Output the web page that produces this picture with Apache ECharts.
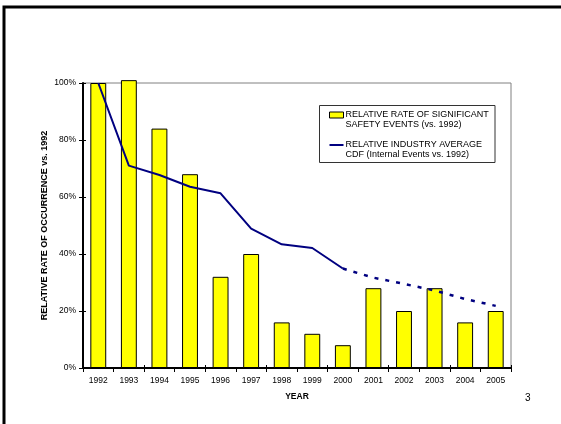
<!DOCTYPE html>
<html>
<head>
<meta charset="utf-8">
<script src="https://cdn.jsdelivr.net/npm/echarts@6/dist/echarts.min.js"></script>
<style>html,body{margin:0;padding:0;background:#fff;}#c{width:561px;height:424px;}</style>
</head>
<body>
<div id="c"></div>
<script>
var years = ['1992','1993','1994','1995','1996','1997','1998','1999','2000','2001','2002','2003','2004','2005'];
var safetyEvents = [100, 101, 84, 68, 32, 40, 16, 12, 8, 28, 20, 28, 16, 20];
var cdfActual = [100, 71, 67.7, 63.6, 61.3, 48.9, 43.4, 42.1, 34.9, null, null, null, null, null];
var cdfProjected = [null, null, null, null, null, null, null, null, 34.9, 31.7, 29.5, 27.2, 24.2, 21.8];
var nameBar = 'RELATIVE RATE OF SIGNIFICANT\nSAFETY EVENTS (vs. 1992)';
var nameLine = 'RELATIVE INDUSTRY AVERAGE\nCDF (Internal Events vs. 1992)';

var chart = echarts.init(document.getElementById('c'));
var font = 'Liberation Sans, Arial, sans-serif';
chart.setOption({
  animation: false,
  backgroundColor: '#fff',
  textStyle: { fontFamily: font },
  grid: { left: 83, right: 50, top: 83, bottom: 56, show: true, borderColor: '#808080', borderWidth: 1 },
  legend: {
    orient: 'vertical', left: 329, top: 100,
    padding: 0, itemGap: 0, itemWidth: 14, itemHeight: 6,
    formatter: function (n) { return ' \n' + n; },
    textStyle: { fontSize: 9, color: '#000', fontFamily: font, lineHeight: 10, padding: [0, 0, 0, -3] },
    data: [
      { name: nameBar, icon: 'rect', itemStyle: { color: '#ffff00', borderColor: '#000', borderWidth: 1 } },
      { name: nameLine, icon: 'path://M0,0L14,0L14,2L0,2Z', itemStyle: { color: '#000080', borderWidth: 0 } }
    ]
  },
  xAxis: [{
    type: 'category', data: years,
    name: 'YEAR', nameLocation: 'middle', nameGap: 24, nameMoveOverlap: false,
    nameTextStyle: { fontSize: 8.5, fontWeight: 'bold', color: '#000', fontFamily: font },
    axisLine: { lineStyle: { color: '#000', width: 2 } },
    axisTick: { show: true, length: 4, lineStyle: { color: '#000' } },
    axisLabel: { fontSize: 8.5, color: '#000', margin: 8, fontFamily: font }
  }, {
    type: 'category', data: years, position: 'bottom',
    axisLine: { show: false }, axisLabel: { show: false },
    axisTick: { show: true, inside: true, length: 3, lineStyle: { color: '#000' } }
  }],
  yAxis: [{
    type: 'value', min: 0, max: 100, interval: 20,
    name: 'RELATIVE RATE OF OCCURRENCE vs. 1992', nameLocation: 'middle', nameGap: 34, nameRotate: 90, nameMoveOverlap: false,
    nameTextStyle: { fontSize: 9, fontWeight: 'bold', color: '#000', fontFamily: font },
    axisLine: { show: true, lineStyle: { color: '#000', width: 2 } },
    axisTick: { show: true, length: 4, lineStyle: { color: '#000' } },
    splitLine: { show: false },
    axisLabel: { fontSize: 8.5, color: '#000', margin: 7, fontFamily: font, formatter: '{value}%' }
  }, {
    type: 'value', min: 0, max: 100, interval: 20, position: 'left',
    axisLine: { show: false }, axisLabel: { show: false }, splitLine: { show: false },
    axisTick: { show: true, inside: true, length: 3, lineStyle: { color: '#000' } }
  }],
  series: [
    { name: nameBar, type: 'bar', data: safetyEvents, barWidth: '52%', clip: false,
      itemStyle: { color: '#ffff00', borderColor: '#000', borderWidth: 1 } },
    { name: nameLine, type: 'line', data: cdfActual, symbol: 'none', z: 3,
      lineStyle: { color: '#000080', width: 2 }, itemStyle: { color: '#000080' } },
    { name: 'projected', type: 'line', data: cdfProjected, symbol: 'none', z: 3,
      lineStyle: { color: '#000080', width: 2.5, type: [4, 7] }, itemStyle: { color: '#000080' } }
  ],
  graphic: [
    { type: 'rect', shape: { x: 4, y: 7, width: 700, height: 600 }, style: { fill: 'none', stroke: '#000', lineWidth: 3 }, silent: true },
    { type: 'rect', z: 0, shape: { x: 319.5, y: 105.5, width: 175.5, height: 57 }, style: { fill: '#fff', stroke: '#333', lineWidth: 1 }, silent: true },
    { type: 'text', left: 525, top: 393, style: { text: '3', fontSize: 10, fill: '#000', fontFamily: font } }
  ]
});
</script>
</body>
</html>
